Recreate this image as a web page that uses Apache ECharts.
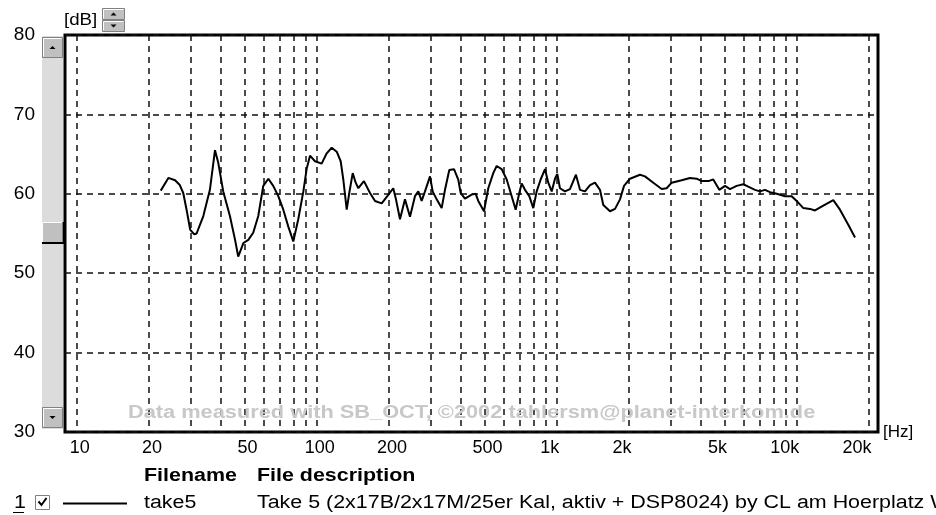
<!DOCTYPE html>
<html>
<head>
<meta charset="utf-8">
<script src="https://cdn.jsdelivr.net/npm/echarts@6/dist/echarts.min.js"></script>
<style>
  html, body { margin: 0; padding: 0; background: #fff; }
  #chart { width: 936px; height: 515px; }
</style>
</head>
<body>
<div id="chart"></div>
<script>
// measured response, frequency in Hz and level in dB
const freqs = [22.4, 24.1, 25.7, 26.9, 27.8, 28.7, 29.7, 30.9, 31.6, 33.7, 35.9, 37.7, 38.9, 40.8, 43.5, 45.7, 47.1, 49.5, 51.9, 54.4,
  57.1, 59.9, 62.9, 65.9, 69.2, 72.6, 76.1, 79.9, 83.8, 88.0, 90.9, 93.8, 98.4, 104.9, 110.1, 115.5, 121.2, 125.9, 129.1, 133.4,
  136.7, 141.3, 145.4, 149.1, 157.4, 166.8, 175.0, 186.6, 196.9, 208.5, 214.0, 222.4, 233.3, 244.8, 256.8, 265.1, 273.8, 282.7, 296.6, 304.3,
  316.2, 331.7, 342.5, 356.9, 373.4, 389.0, 398.1, 414.8, 442.3, 459.7, 471.3, 497.9, 518.8, 544.2, 562.3, 590.0, 619.0, 649.4, 674.8, 698.5,
  714.8, 737.9, 768.9, 799.0, 825.4, 857.6, 894.0, 922.6, 953.4, 983.8, 1006, 1032, 1083, 1136, 1203, 1251, 1312, 1377, 1444, 1515,
  1564, 1668, 1750, 1836, 1908, 2021, 2224, 2333, 2527, 2738, 2872, 3015, 3317, 3593, 3831, 4019, 4282, 4493, 4760, 5027,
  5274, 5623, 5991, 6285, 6705, 7033, 7380, 7743, 8254, 8941, 9533, 10000, 10654, 11362, 11921, 12911, 14211, 15151, 16406, 17503];
const levels = [60.4, 62.0, 61.7, 61.1, 60.1, 58.0, 55.5, 54.9, 55.0, 57.2, 60.5, 65.5, 63.9, 60.3, 57.2, 54.2, 52.1, 53.8, 54.2, 55.1,
  57.2, 61.0, 61.9, 61.0, 59.7, 58.0, 55.9, 54.0, 56.8, 60.3, 63.2, 64.8, 64.1, 63.8, 65.1, 65.8, 65.3, 64.1, 61.8, 58.0,
  60.1, 62.6, 61.4, 60.7, 61.6, 60.1, 59.1, 58.8, 59.7, 60.7, 59.3, 56.8, 59.3, 57.1, 59.7, 60.3, 59.1, 60.3, 62.2, 60.3,
  59.3, 58.2, 60.5, 63.0, 63.1, 61.8, 60.1, 59.4, 59.9, 60.0, 59.1, 57.8, 60.7, 62.6, 63.5, 63.1, 61.8, 59.7, 58.0, 60.1,
  61.3, 60.5, 59.7, 58.2, 60.3, 61.8, 63.1, 61.4, 60.3, 61.9, 62.5, 60.7, 60.3, 60.6, 62.4, 60.5, 60.3, 61.1, 61.4, 60.5,
  58.6, 57.8, 58.1, 59.3, 61.0, 61.9, 62.4, 62.2, 61.4, 60.6, 60.7, 61.4, 61.7, 62.0, 61.9, 61.6, 61.6, 61.8, 60.5, 61.0,
  60.6, 61.0, 61.2, 60.9, 60.5, 60.3, 60.5, 60.2, 60.0, 59.7, 59.7, 59.1, 58.2, 58.1, 57.9, 58.5, 59.2, 58.0, 56.1, 54.5];

// frequency axis
const xMin = 8.94;
const xMax = 21820;
const gridFreqs = [10, 20, 30, 40, 50, 60, 70, 80, 90, 100, 200, 300, 400, 500, 600, 700, 800, 900,
  1000, 2000, 3000, 4000, 5000, 6000, 7000, 8000, 9000, 10000, 20000];
const labelFreqs = [10, 20, 50, 100, 200, 500, 1000, 2000, 5000, 10000, 20000];
const labelTexts = ['10', '20', '50', '100', '200', '500', '1k', '2k', '5k', '10k', '20k'];

// level axis
const yMin = 30;
const yMax = 80;
const yStep = 10;

const FONT = '"Liberation Sans", Arial, sans-serif';
const WIDE = 1.19; // the old UI font runs wider than Arial

const chart = echarts.init(document.getElementById('chart'), null, { renderer: 'canvas' });

const points = freqs.map((f, i) => [Math.log10(f), levels[i]]);

// little win95-style button
function button(x, y, w, h, up) {
  const cx = x + w / 2, cy = y + h / 2;
  const tri = up
    ? [[cx - 3, cy + 1.5], [cx + 3, cy + 1.5], [cx, cy - 1.5]]
    : [[cx - 3, cy - 1.5], [cx + 3, cy - 1.5], [cx, cy + 1.5]];
  return [
    { type: 'rect', shape: { x: x, y: y, width: w, height: h }, style: { fill: '#c0c0c0', stroke: '#808080', lineWidth: 1 } },
    { type: 'polyline', shape: { points: [[x + 1, y + h - 1], [x + 1, y + 1], [x + w - 1, y + 1]] }, style: { stroke: '#fff', lineWidth: 1, fill: null } },
    { type: 'polygon', shape: { points: tri }, style: { fill: '#000' } }
  ];
}

function label(x, y, text, bold) {
  return {
    type: 'text', x: x, y: y, scaleX: WIDE, z: 100,
    style: { text: text, font: (bold ? 'bold ' : '') + '18px ' + FONT, fill: '#000' }
  };
}

const graphics = [
  // scroll bar left of the plot
  { type: 'rect', shape: { x: 42, y: 36, width: 21, height: 393 }, style: { fill: '#dcdcdc' } },
  ...button(42.5, 37.5, 20, 20, true),
  ...button(42.5, 407.5, 20, 20, false),
  { type: 'rect', shape: { x: 42.5, y: 222.5, width: 20, height: 20 }, style: { fill: '#c0c0c0', stroke: '#fff', lineWidth: 1 } },
  { type: 'polyline', shape: { points: [[42, 243], [63.5, 243], [63.5, 222]] }, style: { stroke: '#000', lineWidth: 2, fill: null } },
  // [dB] with spinner
  { type: 'text', x: 64, y: 12, scaleX: 1.1, style: { text: '[dB]', font: '17px ' + FONT, fill: '#000' } },
  ...button(102.5, 8.5, 22, 11, true),
  ...button(102.5, 20.5, 22, 11, false),
  // [Hz]
  { type: 'text', x: 883, y: 424, style: { text: '[Hz]', font: '17px ' + FONT, fill: '#000' } },
  // watermark
  {
    type: 'text', x: 128, y: 404, scaleX: 1.21, z: 100,
    style: { text: 'Data measured with SB_OCT, \u00a92002 tahlersm@planet-interkom.de', font: 'bold 18px ' + FONT, fill: '#c8c8c8' }
  },
  // file table
  label(144, 467, 'Filename', true),
  label(257, 467, 'File description', true),
  label(14, 494, '1', false),
  { type: 'line', shape: { x1: 13, y1: 512.5, x2: 24, y2: 512.5 }, style: { stroke: '#000', lineWidth: 1 } },
  { type: 'rect', shape: { x: 35.5, y: 495.5, width: 14, height: 14 }, style: { fill: '#fff', stroke: '#808080', lineWidth: 1 } },
  { type: 'polyline', shape: { points: [[38.5, 501.5], [41.5, 505], [46.5, 498]] }, style: { stroke: '#000', lineWidth: 2, fill: null } },
  { type: 'line', shape: { x1: 63, y1: 503.5, x2: 127, y2: 503.5 }, style: { stroke: '#000', lineWidth: 2 } },
  label(144, 494, 'take5', false),
  label(257, 494, 'Take 5 (2x17B/2x17M/25er Kal, aktiv + DSP8024) by CL am Hoerplatz W', false)
];

const option = {
  animation: false,
  backgroundColor: '#fff',
  grid: {
    left: 65, right: 58, top: 35, bottom: 83,
    show: true, borderColor: '#000', borderWidth: 3, backgroundColor: 'transparent'
  },
  xAxis: {
    type: 'value',
    min: Math.log10(xMin),
    max: Math.log10(xMax),
    axisLine: { show: false },
    axisTick: { show: false, customValues: gridFreqs.map(f => Math.log10(f)) },
    axisLabel: {
      customValues: labelFreqs.map(f => Math.log10(f)),
      formatter: function (v) {
        let best = 0;
        labelFreqs.forEach((f, i) => {
          if (Math.abs(Math.log10(f) - v) < Math.abs(Math.log10(labelFreqs[best]) - v)) best = i;
        });
        const t = labelTexts[best];
        // kHz labels end at their grid line, the others sit centred on it
        if (t.length === 3 && t.endsWith('k')) return '{w|' + t + '}';
        if (t.endsWith('k')) return '{s|' + t + '}';
        return '{n|' + t + '}';
      },
      rich: {
        n: { fontFamily: FONT, fontSize: 18, color: '#000', padding: [0, 0, 0, 6] },
        s: { fontFamily: FONT, fontSize: 18, color: '#000', padding: [0, 14, 0, 0] },
        w: { fontFamily: FONT, fontSize: 18, color: '#000', padding: [0, 24, 0, 0] }
      },
      color: '#000', fontFamily: FONT, fontSize: 18, margin: 7
    },
    splitLine: { show: true, lineStyle: { color: '#111', width: 1.5, type: [6, 5] } }
  },
  yAxis: {
    type: 'value',
    min: yMin, max: yMax, interval: yStep,
    axisLine: { show: false },
    axisTick: { show: false },
    axisLabel: { color: '#000', fontFamily: FONT, fontSize: 19, margin: 30 },
    splitLine: { show: true, lineStyle: { color: '#111', width: 1.5, type: [6, 5] } }
  },
  series: [{
    type: 'line',
    data: points,
    symbol: 'none',
    lineStyle: { color: '#000', width: 2 },
    z: 5
  }],
  graphic: graphics
};

chart.setOption(option);
</script>
</body>
</html>
